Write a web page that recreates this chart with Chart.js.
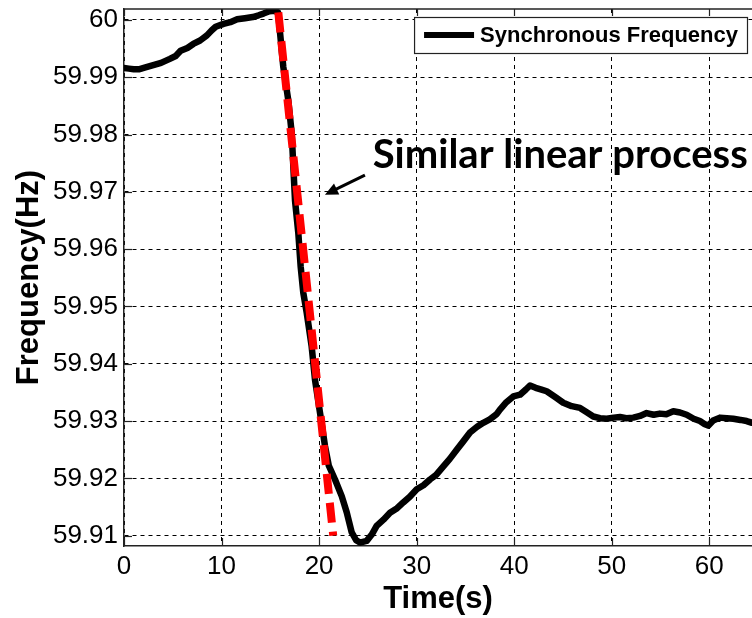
<!DOCTYPE html>
<html>
<head>
<meta charset="utf-8">
<script src="https://cdn.jsdelivr.net/npm/chart.js@4.4.1/dist/chart.umd.min.js"></script>
<style>
html, body { margin: 0; padding: 0; background: #fff; }
canvas { display: block; }
</style>
</head>
<body>
<canvas id="myChart" width="752" height="618"></canvas>
<script>
const timeS = [0, 0.5, 1.0, 1.6, 2.2, 3.0, 3.8, 4.7, 5.3, 5.8, 6.5, 7.1, 7.8, 8.5, 9.0, 9.4,
  10.2, 10.9, 11.6, 12.4, 13.2, 13.8, 14.3, 14.9, 15.4, 15.8,
  16.33, 16.84, 17.19, 17.36, 17.53, 17.87, 18.11, 18.38, 18.73, 19.24, 19.58, 20.09, 20.61,
  21.0, 21.63, 22.32, 22.83, 23.34, 23.8, 24.19, 24.88, 25.4, 25.9, 26.6, 27.27, 28.0, 28.63,
  29.3, 30.01, 30.7, 31.37, 32.0, 32.74, 33.4, 34.11, 34.8, 35.47, 36.2, 36.83, 37.5, 38.2,
  38.54, 39.2, 39.91, 40.6, 41.2, 41.62, 42.2, 42.8, 43.33, 44.2, 45.03, 45.9, 46.75, 47.4,
  48.11, 48.8, 49.48, 50.2, 50.85, 51.5, 52.21, 52.9, 53.58, 54.3, 54.94, 55.6, 56.31, 57.0,
  57.68, 58.4, 59.04, 59.5, 59.89, 60.4, 61.09, 61.8, 62.46, 63.2, 63.83, 64.38];
const freqHz = [59.9916, 59.9915, 59.9914, 59.9914, 59.9917, 59.9921, 59.9925, 59.9932, 59.9937,
  59.9946, 59.9951, 59.9958, 59.9964, 59.9973, 59.9982, 59.9988,
  59.9993, 59.9996, 60.0001, 60.0003, 60.0005, 60.0008, 60.0011, 60.0015, 60.0016, 60.0013,
  59.9918, 59.9860, 59.9803, 59.9744, 59.9685, 59.9628, 59.9570, 59.9524, 59.9489, 59.9430,
  59.9372, 59.9315, 59.9256,
  59.9222, 59.9198, 59.9169, 59.9141, 59.9106, 59.9092, 59.9088, 59.9091, 59.9102, 59.9117,
  59.9128, 59.9140, 59.9148, 59.9158,
  59.9168, 59.9181, 59.9188, 59.9198, 59.9206, 59.9221, 59.9234, 59.9250, 59.9265, 59.9280,
  59.9290, 59.9297, 59.9303, 59.9312,
  59.9320, 59.9333, 59.9343, 59.9346, 59.9355, 59.9362, 59.9358, 59.9355, 59.9352, 59.9342,
  59.9332, 59.9326, 59.9323, 59.9316,
  59.9308, 59.9305, 59.9304, 59.9306, 59.9307, 59.9305, 59.9306, 59.9309, 59.9314, 59.9311,
  59.9313, 59.9312, 59.9317, 59.9315,
  59.9311, 59.9304, 59.9300, 59.9295, 59.9292, 59.9301, 59.9306, 59.9305, 59.9304, 59.9302,
  59.9300, 59.9297];

// the red "similar linear process" segment
const fitTime = [15.82, 21.45];
const fitFreq = [60.0013, 59.9100];

const xTicks = [0, 10, 20, 30, 40, 50, 60];
const yTicks = [59.91, 59.92, 59.93, 59.94, 59.95, 59.96, 59.97, 59.98, 59.99, 60.00];

const seriesName = 'Synchronous Frequency';
const noteText = 'Similar linear process';
const notePos = { x: 25.5, y: 59.9764 };
const arrowFrom = { x: 24.7, y: 59.9729 };
const arrowTo = { x: 20.6, y: 59.9695 };

const AX = 'Arial, "Liberation Sans", sans-serif';

function toPoints(xs, ys) {
  return xs.map((x, i) => ({ x: x, y: ys[i] }));
}

// extra drawing: annotation, arrow, top frame, inward ticks, legend box
const decor = {
  id: 'decor',
  beforeDraw(chart) {
    const ctx = chart.ctx;
    const sx = chart.scales.x, sy = chart.scales.y;
    ctx.save();
    ctx.fillStyle = '#000';
    ctx.font = 'bold 40px Lato, "Open Sans", sans-serif';
    ctx.textBaseline = 'middle';
    ctx.textAlign = 'left';
    ctx.fillText(noteText, sx.getPixelForValue(notePos.x), sy.getPixelForValue(notePos.y));
    ctx.restore();
  },
  afterDatasetsDraw(chart) {
    const ctx = chart.ctx;
    const a = chart.chartArea;
    const sx = chart.scales.x, sy = chart.scales.y;
    ctx.save();

    // arrow
    const x1 = sx.getPixelForValue(arrowFrom.x), y1 = sy.getPixelForValue(arrowFrom.y);
    const x2 = sx.getPixelForValue(arrowTo.x), y2 = sy.getPixelForValue(arrowTo.y);
    const ang = Math.atan2(y2 - y1, x2 - x1);
    ctx.strokeStyle = '#000';
    ctx.fillStyle = '#000';
    ctx.lineWidth = 3;
    ctx.beginPath();
    ctx.moveTo(x1, y1);
    ctx.lineTo(x2 - 8 * Math.cos(ang), y2 - 8 * Math.sin(ang));
    ctx.stroke();
    ctx.beginPath();
    ctx.moveTo(x2, y2);
    ctx.lineTo(x2 - 13 * Math.cos(ang) + 6 * Math.sin(ang), y2 - 13 * Math.sin(ang) - 6 * Math.cos(ang));
    ctx.lineTo(x2 - 13 * Math.cos(ang) - 6 * Math.sin(ang), y2 - 13 * Math.sin(ang) + 6 * Math.cos(ang));
    ctx.closePath();
    ctx.fill();

    // top frame line
    ctx.lineWidth = 1.5;
    ctx.strokeStyle = '#222';
    ctx.beginPath();
    ctx.moveTo(a.left, a.top);
    ctx.lineTo(a.right, a.top);
    ctx.stroke();

    // inward tick marks
    ctx.lineWidth = 1.2;
    xTicks.forEach(v => {
      const px = Math.round(sx.getPixelForValue(v)) + 0.5;
      ctx.beginPath();
      ctx.moveTo(px, a.bottom);
      ctx.lineTo(px, a.bottom - 8);
      ctx.moveTo(px, a.top);
      ctx.lineTo(px, a.top + 7);
      ctx.stroke();
    });
    yTicks.forEach(v => {
      const py = Math.round(sy.getPixelForValue(v)) + 0.5;
      ctx.beginPath();
      ctx.moveTo(a.left, py);
      ctx.lineTo(a.left + 8, py);
      ctx.stroke();
    });

    // legend
    ctx.font = 'bold 22px ' + AX;
    const tw = ctx.measureText(seriesName).width;
    const bw = 10 + 50 + 6 + tw + 9, bh = 36;
    const bx = a.right - 5 - bw, by = a.top + 8;
    ctx.fillStyle = '#fff';
    ctx.fillRect(bx, by, bw, bh);
    ctx.lineWidth = 1.2;
    ctx.strokeStyle = '#222';
    ctx.strokeRect(bx + 0.5, by + 0.5, bw, bh);
    ctx.lineWidth = 6;
    ctx.strokeStyle = '#000';
    ctx.beginPath();
    ctx.moveTo(bx + 10, by + bh / 2);
    ctx.lineTo(bx + 60, by + bh / 2);
    ctx.stroke();
    ctx.fillStyle = '#000';
    ctx.textBaseline = 'middle';
    ctx.textAlign = 'left';
    ctx.fillText(seriesName, bx + 66, by + bh / 2 + 1);

    ctx.restore();
  }
};

const ctx = document.getElementById('myChart').getContext('2d');
const myChart = new Chart(ctx, {
  type: 'line',
  data: {
    datasets: [{
      label: 'fit',
      data: toPoints(fitTime, fitFreq),
      borderColor: '#ff0000',
      borderWidth: 8,
      borderDash: [20, 9],
      borderCapStyle: 'butt',
      pointRadius: 0,
      fill: false,
      tension: 0,
      order: 0
    }, {
      label: seriesName,
      data: toPoints(timeS, freqHz),
      borderColor: '#000',
      borderWidth: 6.5,
      borderJoinStyle: 'round',
      borderCapStyle: 'round',
      pointRadius: 0,
      fill: false,
      tension: 0,
      order: 1
    }]
  },
  options: {
    responsive: false,
    animation: false,
    events: [],
    layout: { padding: { top: 9, right: 0, left: 0, bottom: 0 } },
    plugins: { legend: { display: false }, tooltip: { enabled: false } },
    scales: {
      x: {
        type: 'linear',
        min: 0,
        max: 64.38,
        afterBuildTicks: s => { s.ticks = xTicks.map(v => ({ value: v })); },
        afterFit: s => { s.height = 72; s.paddingLeft = 0; s.paddingRight = 0; },
        grid: { color: '#000', lineWidth: 1, drawTicks: false },
        border: { display: true, color: '#222', width: 1.5, dash: [4, 4] },
        ticks: { color: '#000', font: { family: AX, size: 26 }, padding: 5, maxRotation: 0, autoSkip: false },
        title: { display: true, text: 'Time(s)', color: '#000', font: { family: AX, size: 31, weight: 'bold' }, padding: { top: 0, bottom: 0 } }
      },
      y: {
        type: 'linear',
        min: 59.9082,
        max: 60.0019,
        afterBuildTicks: s => { s.ticks = yTicks.map(v => ({ value: v })); },
        afterFit: s => { s.width = 124; s.paddingTop = 0; s.paddingBottom = 0; },
        grid: { color: '#000', lineWidth: 1, drawTicks: false },
        border: { display: true, color: '#222', width: 1.5, dash: [4, 4] },
        ticks: { color: '#000', font: { family: AX, size: 26 }, padding: 6,
          callback: v => String(+v.toFixed(2)) },
        title: { display: true, text: 'Frequency(Hz)', color: '#000', font: { family: AX, size: 31, weight: 'bold' }, padding: { top: 11, bottom: 0 } }
      }
    }
  },
  plugins: [decor]
});
</script>
</body>
</html>
